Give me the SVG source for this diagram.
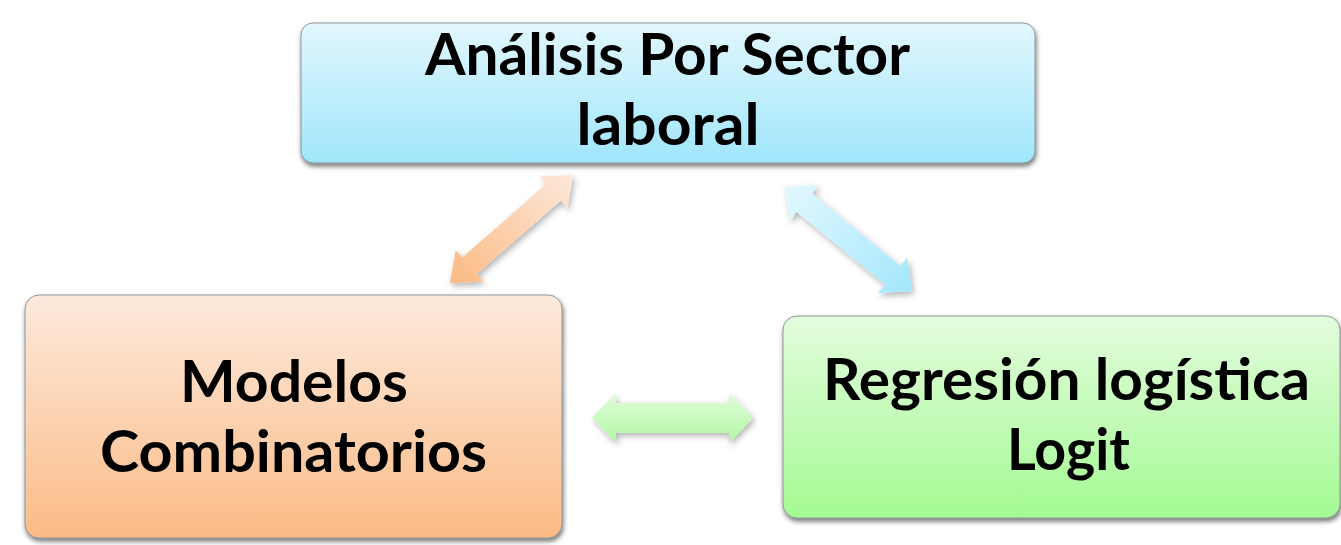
<svg xmlns="http://www.w3.org/2000/svg" width="1341" height="545" viewBox="0 0 1341 545">
  <defs>
    <linearGradient id="gBlue" x1="0" y1="0" x2="0" y2="1">
      <stop offset="0" stop-color="#e2f7fd"/>
      <stop offset="1" stop-color="#a0e6fb"/>
    </linearGradient>
    <linearGradient id="gOrange" x1="0" y1="0" x2="0" y2="1">
      <stop offset="0" stop-color="#fdeadd"/>
      <stop offset="1" stop-color="#fbbb86"/>
    </linearGradient>
    <linearGradient id="gGreen" x1="0" y1="0" x2="0" y2="1">
      <stop offset="0" stop-color="#e3fcdd"/>
      <stop offset="1" stop-color="#a4fa93"/>
    </linearGradient>
    <linearGradient id="aOrange" gradientUnits="userSpaceOnUse" x1="573" y1="175" x2="450" y2="283">
      <stop offset="0" stop-color="#fde8da"/>
      <stop offset="1" stop-color="#fbba84"/>
    </linearGradient>
    <linearGradient id="aBlue" gradientUnits="userSpaceOnUse" x1="785" y1="187" x2="912" y2="291">
      <stop offset="0" stop-color="#e2f8fe"/>
      <stop offset="1" stop-color="#a4e7fc"/>
    </linearGradient>
    <linearGradient id="aGreen" gradientUnits="userSpaceOnUse" x1="0" y1="393" x2="0" y2="443">
      <stop offset="0" stop-color="#e0fcd9"/>
      <stop offset="1" stop-color="#b3f7a4"/>
    </linearGradient>
    <filter id="boxShadow" x="-5%" y="-10%" width="110%" height="125%">
      <feDropShadow dx="1" dy="3" stdDeviation="2.5" flood-color="#000" flood-opacity="0.55"/>
    </filter>
    <filter id="arrowShadow" x="-20%" y="-20%" width="140%" height="140%">
      <feDropShadow dx="2" dy="3" stdDeviation="3" flood-color="#000" flood-opacity="0.3"/>
    </filter>
  </defs>
  <style>
    .box { stroke: #7f8a8e; stroke-width: 1; stroke-opacity: 0.85; filter: url(#boxShadow); }
    .label { font-family: Lato, "Open Sans", "Liberation Sans", sans-serif; font-weight: 700; font-size: 57px; fill: #000; text-anchor: middle; }
    .arrow { filter: url(#arrowShadow); }
  </style>
  <rect width="1341" height="545" fill="#ffffff"/>

  <g id="connectors">
    <polygon class="arrow" fill="url(#aOrange)" points="450,283 483.4,281.6 476.8,274.1 560.7,200.4 567.3,207.9 573,175 539.6,176.4 546.2,183.9 462.3,257.6 455.7,250.1"/>
    <polygon class="arrow" fill="url(#aBlue)" points="785,187 789.8,220.6 796.7,212.1 885.1,284.4 878.1,293 912,291 907.2,257.4 900.3,265.9 811.9,193.6 818.9,185"/>
    <polygon class="arrow" fill="url(#aGreen)" points="592,418 616,393 616,403 729,403 729,393 753,418 729,443 729,433 616,433 616,443"/>
  </g>

  <g id="node-analisis">
    <rect class="box" x="301" y="23" width="734" height="140" rx="12" ry="12" fill="url(#gBlue)"/>
    <text class="label" x="667.5" y="75" textLength="485" lengthAdjust="spacingAndGlyphs">Análisis Por Sector</text>
    <text class="label" x="668" y="145" textLength="183" lengthAdjust="spacingAndGlyphs">laboral</text>
  </g>

  <g id="node-modelos">
    <rect class="box" x="25" y="295" width="537" height="243" rx="14" ry="14" fill="url(#gOrange)"/>
    <text class="label" x="294" y="402" textLength="228" lengthAdjust="spacingAndGlyphs">Modelos</text>
    <text class="label" x="293.5" y="472" textLength="387" lengthAdjust="spacingAndGlyphs">Combinatorios</text>
  </g>

  <g id="node-regresion">
    <rect class="box" x="783" y="316" width="557" height="202" rx="14" ry="14" fill="url(#gGreen)"/>
    <text class="label" x="1066.5" y="400" textLength="487" lengthAdjust="spacingAndGlyphs">Regresión logística</text>
    <text class="label" x="1068.5" y="470" textLength="123" lengthAdjust="spacingAndGlyphs">Logit</text>
  </g>
</svg>
